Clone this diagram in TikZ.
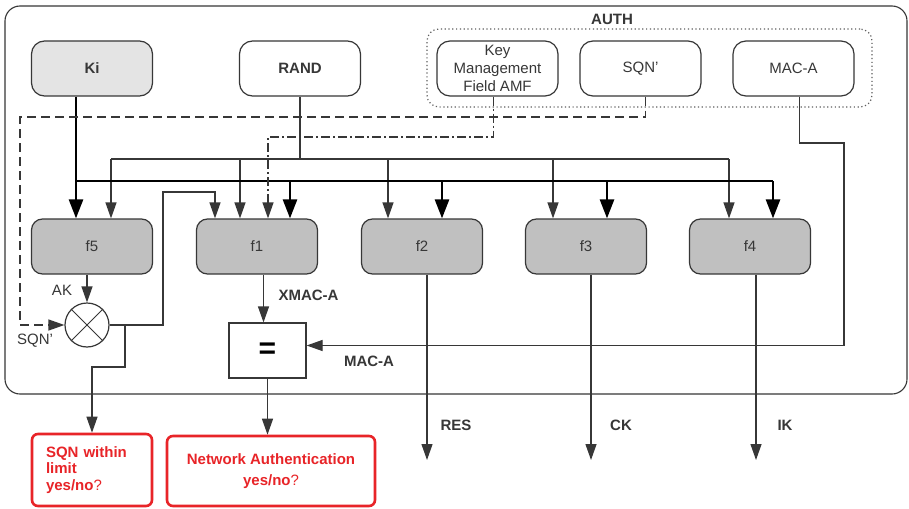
\documentclass[tikz,border=0pt]{standalone}
\usepackage{fontspec}
\setmainfont{Liberation Sans}
\usetikzlibrary{positioning,calc,arrows.meta}
\definecolor{linegray}{RGB}{55,55,55}
\definecolor{kifill}{RGB}{228,228,228}
\definecolor{funcfill}{RGB}{192,192,192}
\definecolor{alertred}{RGB}{232,36,40}

\begin{document}
\begin{tikzpicture}[
  x=1pt, y=-1pt,
  font=\fontsize{15}{18}\selectfont,
  frame/.style={rectangle, draw=linegray, line width=1.1pt, rounded corners=15pt},
  authbox/.style={rectangle, draw=linegray!80, line width=1.2pt, dash pattern=on 1.2pt off 2.6pt, rounded corners=12pt, minimum width=445pt, minimum height=78pt},
  inbox/.style={rectangle, draw=linegray, line width=1.2pt, fill=white, rounded corners=13pt, minimum width=121pt, minimum height=55pt, align=center, inner sep=2pt, text=linegray},
  func/.style={inbox, fill=funcfill, rounded corners=11pt},
  result/.style={rectangle, draw=alertred, line width=2.6pt, rounded corners=6pt, text=alertred, font=\fontsize{15}{16.5}\selectfont\bfseries},
  lbl/.style={font=\fontsize{15}{18}\selectfont\bfseries, text=linegray},
  note/.style={text=linegray},
  sig/.style={draw=linegray, line width=1.2pt},
  feed/.style={sig, -{Triangle[length=16pt,width=11pt]}},
  keyline/.style={draw=black, line width=2.6pt},
  keyarrow/.style={keyline, -{Triangle[length=19pt,width=14pt]}}
]
\useasboundingbox[fill=white] (0,0) rectangle (909,508);

% Outer frame and AUTH group
\node[frame, minimum width=902pt, minimum height=388pt] (card) at (456,200) {};
\node[authbox] (auth) at (649.5,68) {};
\node[lbl] (authlbl) at (612,19) {AUTH};

% Inputs
\node[inbox, fill=kifill, font=\fontsize{15}{18}\selectfont\bfseries] (ki) at (92,68.5) {Ki};
\node[inbox, font=\fontsize{15}{18}\selectfont\bfseries] (rand) at (300,68.5) {RAND};
\node[inbox] (amf) at (497.5,68.5) {Key\\Management\\Field AMF};
\node[inbox] (sqn) at (640.5,68.5) {SQN’};
\node[inbox] (maca) at (793.5,68.5) {MAC-A};

% Functions f1..f5
\node[func] (f5) at (92,246.5) {f5};
\node[func] (f1) at (257,246.5) {f1};
\node[func] (f2) at (422,246.5) {f2};
\node[func] (f3) at (586,246.5) {f3};
\node[func] (f4) at (750,246.5) {f4};

% XOR and compare
\node[circle, draw=linegray, line width=1.2pt, fill=white, minimum size=44pt] (xor) at (87,325) {};
\draw[sig, line width=0.8pt] (xor.north west) -- (xor.south east) (xor.north east) -- (xor.south west);
\node[rectangle, draw=linegray, line width=1.2pt, fill=white, minimum width=77pt, minimum height=55pt,
      font=\fontsize{30}{30}\selectfont\bfseries] (eq) at (267.5,350.5) {=};

% Results
\node[result, minimum width=120pt, minimum height=72pt, text width=92pt, align=left, inner xsep=14pt]
  (sqnres) at (92,470) {SQN within\\limit\\yes/no{\mdseries ?}};
\node[result, minimum width=208pt, minimum height=70pt, align=center,
      font=\fontsize{15}{21}\selectfont\bfseries] (netres) at (271,471) {Network Authentication\\yes/no{\mdseries ?}};

% RAND bus (thin)
\coordinate (randbus) at (300,159);
\draw[sig] (rand.south) -- (randbus);
\draw[sig] ([xshift=19pt]f5.north |- randbus) -- ([xshift=-21pt]f4.north |- randbus);
\foreach \f/\dx in {f5/19pt, f1/-17pt, f2/-34pt, f3/-33pt, f4/-21pt}
  \draw[feed] ([xshift=\dx]\f.north |- randbus) -- ([xshift=\dx]\f.north);

% Ki bus (thick)
\coordinate (kibus) at (76,181);
\draw[keyarrow] ([xshift=-16pt]ki.south) -- ([xshift=-16pt]f5.north);
\draw[keyline] (kibus) -- ([xshift=23pt]f4.north |- kibus);
\foreach \f/\dx in {f1/33pt, f2/20pt, f3/21pt, f4/23pt}
  \draw[keyarrow] ([xshift=\dx]\f.north |- kibus) -- ([xshift=\dx]\f.north);

% AMF (dash-dot) and SQN' (dashed)
\coordinate (amfturn) at (268,137);
\draw[sig, dash pattern=on 9pt off 3pt on 2pt off 3pt, -{Triangle[length=16pt,width=11pt]}]
  ([xshift=-4pt]amf.south) |- (amfturn) -- ([xshift=11pt]f1.north);
\coordinate (sqnturn) at (20,117);
\draw[sig, dash pattern=on 9pt off 5pt, -{Triangle[length=16pt,width=11pt]}]
  ([xshift=5pt]sqn.south) |- (sqnturn) |- (xor.west);
\node[note] (sqnlbl) at (35,341) {SQN’};

% f5 -> XOR, feedback to f1 and SQN check
\draw[feed] (f5.south -| xor.north) -- (xor.north);
\node[note] (ak) at (62,290) {AK};
\coordinate (fbtop) at (163,192);
\draw[feed] (xor.east) -| (fbtop) -| ([xshift=-42pt]f1.north);
\coordinate (split) at (125,325);
\coordinate (splitlow) at (125,367);
\draw[feed] (split) -- (splitlow) -| (sqnres.north);

% f1 -> compare -> result
\draw[feed] ([xshift=-4pt]eq.north |- f1.south) -- ([xshift=-4pt]eq.north);
\node[lbl, anchor=west] (xmaclbl) at (275,295) {XMAC-A};
\coordinate (macturn) at (844,143);
\draw[feed] ([xshift=6pt]maca.south) |- (macturn) |- ([yshift=5pt]eq.east);
\node[lbl] (maclbl) at (369,361) {MAC-A};
\draw[feed] (eq.south) -- (eq.south |- netres.north);

% Outputs
\coordinate (res) at (427,460);
\coordinate (ck) at (591,460);
\coordinate (ik) at (756,460);
\draw[feed] (f2.south -| res) -- (res);
\draw[feed] (f3.south -| ck) -- (ck);
\draw[feed] (f4.south -| ik) -- (ik);
\node[lbl] (reslbl) at (456,425) {RES};
\node[lbl] (cklbl) at (621,425) {CK};
\node[lbl] (iklbl) at (785,425) {IK};
\end{tikzpicture}
\end{document}
